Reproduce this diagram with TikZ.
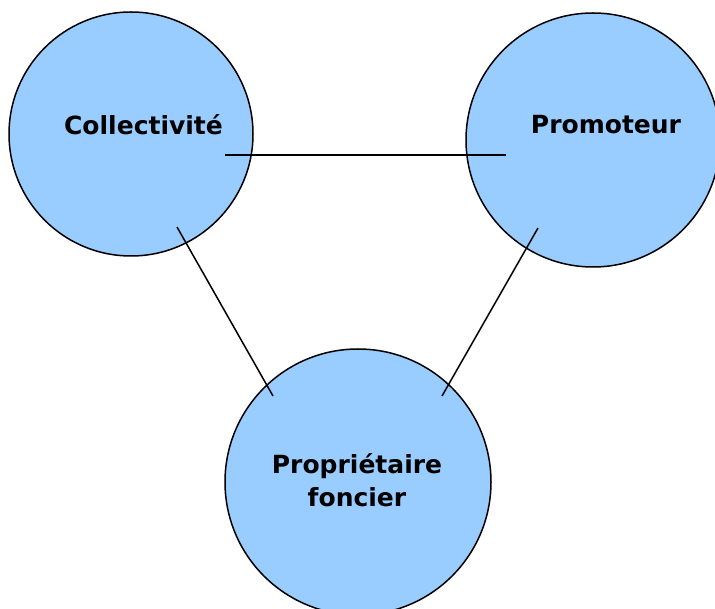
\documentclass[tikz,border=0pt]{standalone}
\usepackage{fontspec}
\setmainfont{DejaVu Sans}
\usepackage{tikz}
\usetikzlibrary{positioning}
\definecolor{actorblue}{RGB}{153,204,255}

\begin{document}
\begin{tikzpicture}[
    x=1pt, y=-1pt,
    actor/.style={circle, draw=black, line width=1.5pt, fill=actorblue, inner sep=0pt},
    actortext/.style={font=\fontsize{25}{33}\selectfont\bfseries, align=center},
    link/.style={line width=1.5pt}
]
\useasboundingbox (0,0) rectangle (715,609);

% Actors
\node[actor, minimum size=244pt] (coll) at (131,134) {};
\node[actor, minimum size=254pt] (prom) at (593,140) {};
\node[actor, minimum size=266pt] (prop) at (358,482) {};

% Link end points
\coordinate (coll-e) at (225,155);
\coordinate (coll-s) at (177,227);
\coordinate (prom-w) at (506,155);
\coordinate (prom-s) at (538,228);
\coordinate (prop-nw) at (273,396);
\coordinate (prop-ne) at (442,396);

% Links
\draw[link] (coll-e) -- (prom-w);
\draw[link] (coll-s) -- (prop-nw);
\draw[link] (prom-s) -- (prop-ne);

% Labels
\node[actortext] (coll-txt) at (143.5,125) {Collectivité};
\node[actortext] (prom-txt) at (606,125) {Promoteur};
\node[actortext] (prop-txt) at (357,480) {Propriétaire\\foncier};

\end{tikzpicture}
\end{document}
